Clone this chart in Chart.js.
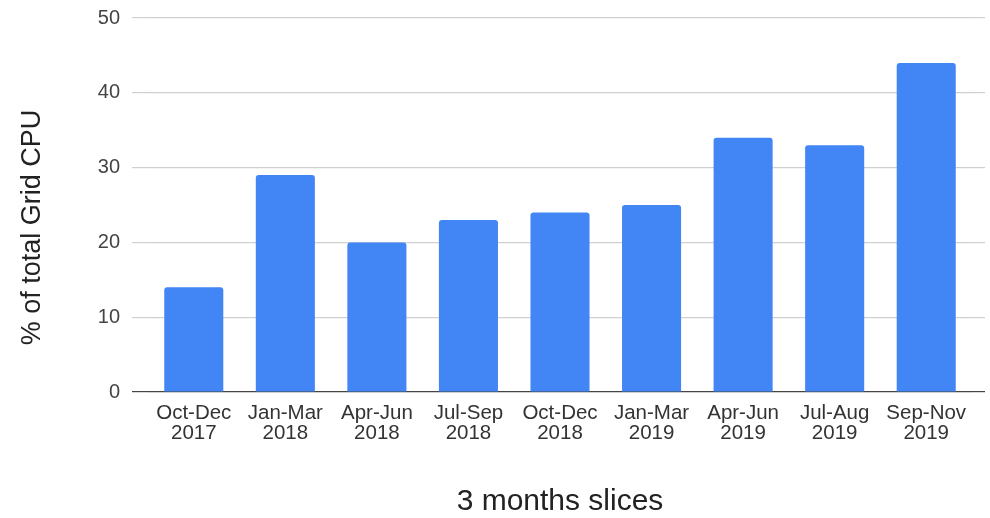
<!DOCTYPE html>
<html>
<head>
<meta charset="utf-8">
<script src="https://cdn.jsdelivr.net/npm/chart.js@4/dist/chart.umd.min.js"></script>
<style>
  html, body { margin: 0; padding: 0; background: #fff; }
  #wrap { width: 990px; height: 518px; }
</style>
</head>
<body>
<div id="wrap"><canvas id="cpuChart" width="990" height="518"></canvas></div>
<script>
// dados
const quarters = [
  ['Oct-Dec', '2017'], ['Jan-Mar', '2018'], ['Apr-Jun', '2018'],
  ['Jul-Sep', '2018'], ['Oct-Dec', '2018'], ['Jan-Mar', '2019'],
  ['Apr-Jun', '2019'], ['Jul-Aug', '2019'], ['Sep-Nov', '2019']
];
const cpuShare = [14, 29, 20, 23, 24, 25, 34, 33, 44];
const yTicks = [0, 10, 20, 30, 40, 50];

const fontFamily = '"Liberation Sans", Arial, sans-serif';

// linha do zero mais escura
function gridColor(ctx) {
  return ctx.tick && ctx.tick.value === 0 ? '#444' : '#d0d0d0';
}

document.addEventListener('DOMContentLoaded', function () {
  const ctx = document.getElementById('cpuChart');

  new Chart(ctx, {
    type: 'bar',
    data: {
      labels: quarters,
      datasets: [{
        data: cpuShare,
        backgroundColor: '#4285f4',
        borderRadius: 3,
        borderSkipped: 'bottom',
        categoryPercentage: 1,
        barPercentage: 0.645
      }]
    },
    options: {
      responsive: false,
      animation: false,
      layout: { padding: { top: 18, left: 0, right: 0, bottom: 0 } },
      plugins: {
        legend: { display: false },
        tooltip: { enabled: false }
      },
      scales: {
        x: {
          grid: { display: false, drawTicks: false },
          border: { display: false },
          ticks: {
            color: '#333',
            padding: 11,
            maxRotation: 0,
            autoSkip: false,
            font: { family: fontFamily, size: 20.5, lineHeight: 1 }
          },
          title: {
            display: true,
            text: '3 months slices',
            color: '#222',
            padding: { top: 0, bottom: 1 },
            font: { family: fontFamily, size: 30, lineHeight: 1 }
          },
          afterFit: function (scale) { scale.height = 126; }
        },
        y: {
          min: 0,
          max: 50,
          afterBuildTicks: function (scale) {
            scale.ticks = yTicks.map(v => ({ value: v }));
          },
          grid: { color: gridColor, lineWidth: 1.2, tickLength: 16 },
          border: { display: false },
          ticks: {
            color: '#444',
            padding: 12,
            font: { family: fontFamily, size: 20 }
          },
          title: {
            display: true,
            text: '% of total Grid CPU      ',
            color: '#222',
            padding: { top: 16, bottom: 0 },
            font: { family: fontFamily, size: 27 }
          },
          afterFit: function (scale) {
            scale.width = 148;
            scale.paddingTop = 0;
            scale.paddingBottom = 0;
          }
        },
        y2: {
          position: 'right',
          min: 0,
          max: 50,
          afterBuildTicks: function (scale) {
            scale.ticks = yTicks.map(v => ({ value: v }));
          },
          grid: { color: gridColor, lineWidth: 1.2, tickLength: 13, drawOnChartArea: false },
          border: { display: false },
          ticks: { display: false },
          afterFit: function (scale) {
            scale.width = 18;
            scale.paddingTop = 0;
            scale.paddingBottom = 0;
          }
        }
      }
    }
  });
});
</script>
</body>
</html>
